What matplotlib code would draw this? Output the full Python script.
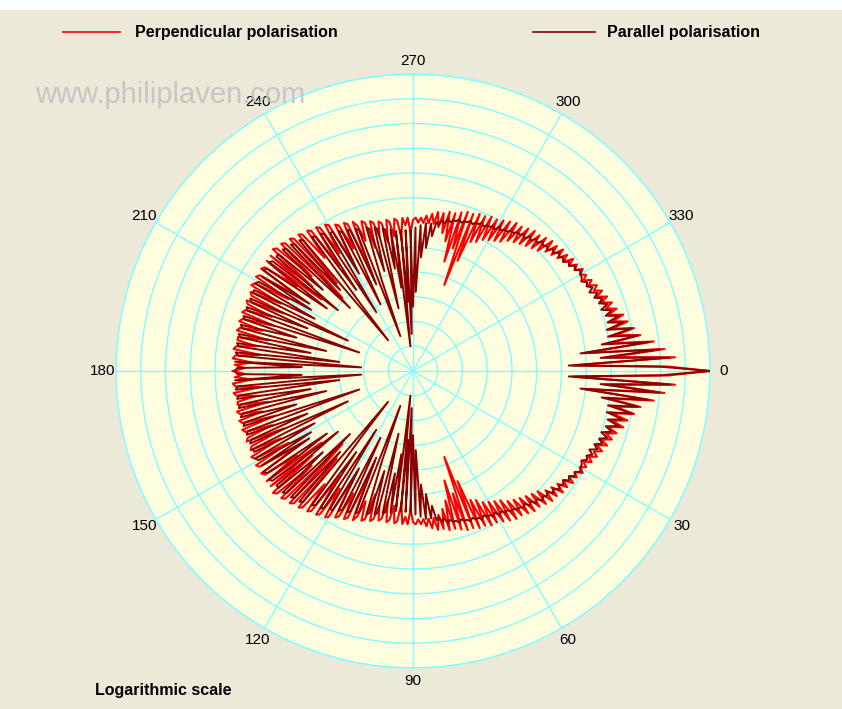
import numpy as np
import matplotlib.pyplot as plt
from matplotlib.lines import Line2D
from matplotlib.patches import Rectangle

# scattering angle (deg), 0..180; the pattern is mirrored for 180..360
angle_deg = np.arange(0, 181)

# log intensity in grid-ring units (0..12), perpendicular polarisation
perp = [
    12.0, 10.3, 6.5, 10.6, 8.0, 10.2, 7.0, 9.8, 8.0, 9.3,
    8.3, 9.1, 8.2, 8.9, 8.3, 8.8, 8.2, 8.6, 8.2, 8.5,
    8.1, 8.4, 8.0, 8.3, 8.0, 8.2, 7.9, 8.1, 7.8, 8.0,
    7.8, 8.0, 7.7, 7.9, 7.6, 7.9, 7.5, 7.8, 7.4, 7.8,
    7.3, 7.7, 7.2, 7.7, 7.0, 7.6, 6.9, 7.5, 6.8, 7.5,
    6.7, 7.4, 6.6, 7.3, 6.5, 7.3, 6.3, 7.2, 6.2, 7.1,
    6.1, 7.0, 6.0, 7.0, 5.8, 6.9, 5.7, 6.9, 4.8, 6.8,
    3.7, 6.8, 5.2, 6.7, 4.6, 6.6, 5.4, 6.6, 5.7, 6.5,
    5.9, 6.5, 6.0, 6.4, 6.0, 6.3, 6.0, 6.2, 6.0, 6.2,
    6.1, 5.6, 6.2, 5.9, 6.2, 5.4, 6.1, 6.2, 5.5, 6.1,
    6.2, 5.3, 6.1, 6.2, 5.6, 6.2, 6.3, 5.2, 6.3, 6.4,
    5.6, 6.3, 6.5, 4.6, 6.5, 6.6, 5.5, 6.6, 6.7, 4.9,
    6.8, 6.9, 5.6, 6.9, 7.0, 5.2, 7.0, 7.1, 5.8, 7.1,
    7.2, 4.7, 7.2, 7.3, 4.1, 7.3, 7.4, 5.6, 7.4, 7.5,
    5.3, 7.4, 4.7, 7.4, 5.8, 7.3, 7.4, 5.5, 7.3, 7.4,
    5.8, 7.3, 7.4, 6.0, 7.3, 7.2, 5.7, 7.3, 7.2, 6.1,
    7.2, 7.3, 5.9, 7.2, 7.3, 6.3, 7.2, 7.3, 6.0, 7.2,
    7.2, 6.4, 7.2, 7.3, 6.2, 7.2, 7.3, 6.5, 7.2, 6.8,
    7.3,
]

# parallel polarisation
para = [
    12.0, 10.0, 6.3, 10.4, 7.6, 10.0, 6.8, 9.6, 7.7, 9.2,
    8.0, 9.0, 8.0, 8.7, 8.1, 8.6, 8.1, 8.4, 8.0, 8.3,
    8.0, 8.2, 7.9, 8.1, 7.8, 8.0, 7.8, 7.9, 7.7, 7.8,
    7.8, 7.9, 7.7, 7.8, 7.6, 7.7, 7.5, 7.6, 7.5, 7.6,
    7.4, 7.5, 7.3, 7.4, 7.3, 7.4, 7.2, 7.3, 7.1, 7.2,
    7.0, 7.1, 7.0, 7.0, 6.9, 6.9, 6.8, 6.8, 6.7, 6.8,
    6.6, 6.7, 6.6, 6.6, 6.5, 6.6, 6.5, 6.5, 6.4, 6.5,
    6.4, 6.4, 6.3, 6.4, 6.3, 6.3, 6.2, 6.3, 6.1, 6.2,
    6.0, 6.1, 5.5, 6.0, 5.0, 6.0, 4.6, 5.9, 3.2, 5.8,
    2.6, 5.7, 1.5, 5.7, 2.8, 5.7, 1.0, 5.7, 3.4, 5.8,
    4.2, 5.8, 5.9, 2.6, 5.9, 6.0, 4.2, 6.0, 6.1, 3.9,
    1.5, 6.1, 6.2, 3.8, 6.2, 6.3, 3.0, 6.3, 6.4, 4.5,
    6.5, 6.5, 2.8, 6.6, 6.7, 4.0, 6.7, 6.8, 3.4, 1.6,
    6.9, 7.0, 4.4, 7.0, 7.1, 3.6, 7.1, 7.2, 4.9, 7.2,
    7.2, 3.9, 7.2, 7.3, 4.3, 7.2, 7.3, 5.0, 7.2, 4.8,
    7.2, 7.3, 4.5, 7.2, 7.2, 2.9, 7.2, 7.1, 4.6, 7.2,
    7.1, 2.3, 7.2, 7.1, 4.9, 7.2, 7.1, 3.6, 7.2, 7.1,
    4.2, 7.2, 7.1, 3.0, 7.2, 7.1, 2.1, 7.2, 4.5, 7.1,
    7.2,
]

theta_labels = [str(a) for a in range(0, 360, 30)]

bg = '#ECE9D8'
disk = '#FFFFE0'
grid_c = '#80FFFF'
red = '#FF0000'
dark_red = '#8B0000'

# mirror the 0-180 pattern onto 180-360
th = np.concatenate([angle_deg, 360 - angle_deg[-2::-1]])
th = np.deg2rad(th)
r_perp = np.concatenate([perp, perp[-2::-1]])
r_para = np.concatenate([para, para[-2::-1]])

fig = plt.figure(figsize=(8.42, 7.09), dpi=100, facecolor=bg)
fig.add_artist(Rectangle((0, 1 - 10 / 709), 1, 10 / 709, transform=fig.transFigure,
                         facecolor='white', edgecolor='none'))

ax = fig.add_axes([116 / 842, 41 / 709, 594 / 842, 594 / 709], projection='polar')
ax.set_facecolor(disk)
ax.set_theta_zero_location('E')
ax.set_theta_direction(-1)

ax.plot(th, r_perp, color=red, lw=1.5, zorder=3)
ax.plot(th, r_para, color=dark_red, lw=1.4, zorder=4)

ax.set_rlim(0, 12)
ax.set_rgrids(np.arange(1, 13), labels=[''] * 12)
ax.set_thetagrids(range(0, 360, 30), labels=theta_labels,
                  fontsize=11, fontfamily='Liberation Sans')
ax.tick_params(axis='x', pad=-1)
ax.grid(True, color=grid_c, lw=1.0)
ax.spines['polar'].set_color(grid_c)
ax.spines['polar'].set_linewidth(1.0)

# legend drawn by hand across the top
fig.add_artist(Line2D([63 / 842, 120 / 842], [1 - 32 / 709] * 2, color=red, lw=1.2))
fig.text(135 / 842, 1 - 32 / 709, 'Perpendicular polarisation', fontsize=11.5,
         fontweight='bold', fontfamily='Liberation Sans', va='center', ha='left')
fig.add_artist(Line2D([533 / 842, 595 / 842], [1 - 32 / 709] * 2, color=dark_red, lw=1.2))
fig.text(607 / 842, 1 - 32 / 709, 'Parallel polarisation', fontsize=11.5,
         fontweight='bold', fontfamily='Liberation Sans', va='center', ha='left')

fig.text(95 / 842, 1 - 690 / 709, 'Logarithmic scale', fontsize=11.5,
         fontweight='bold', fontfamily='Liberation Sans', va='center', ha='left')

# watermark sits over the 240 label, as in the original
fig.text(35 / 842, 1 - 95 / 709, 'www.philiplaven.com', fontsize=21,
         fontfamily='Liberation Sans', color='#C0C0C0', alpha=0.85,
         va='center', ha='left', zorder=10)

fig.savefig('out.png', dpi=100, facecolor=bg)
